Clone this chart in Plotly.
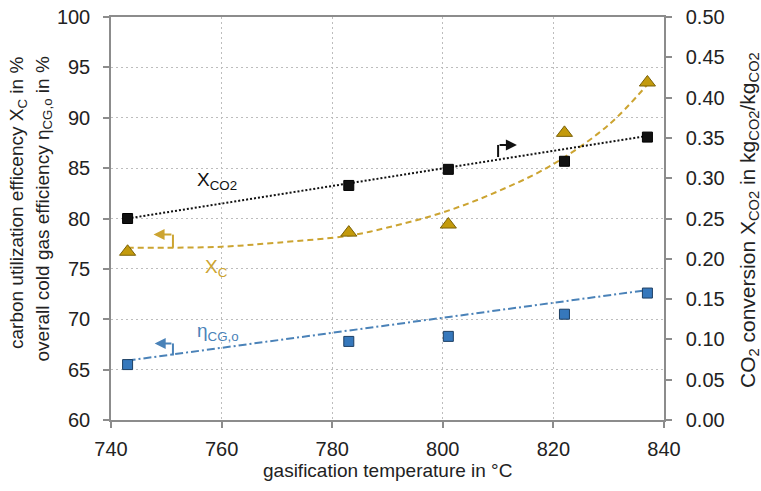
import numpy as np
import plotly.graph_objects as go

temperature = [743, 783, 801, 822, 837]
co2_conversion = [0.250, 0.291, 0.311, 0.321, 0.351]   # right axis, kg/kg
carbon_util = [76.7, 78.6, 79.4, 88.5, 93.5]           # left axis, %
cold_gas_eff = [65.5, 67.8, 68.3, 70.5, 72.6]          # left axis, %

# trend lines
trend_lin_t = [743, 837]
trend_co2 = [0.250, 0.3525]
trend_eta = [65.9, 72.9]
trend_c_t = [743, 750, 760, 770, 783, 790, 800, 810, 820, 830, 837]
trend_c = [77.1, 77.1, 77.2, 77.6, 78.3, 79.1, 80.6, 82.7, 85.4, 89.3, 93.3]

x_ticks = [740, 760, 780, 800, 820, 840]
left_ticks = [60, 65, 70, 75, 80, 85, 90, 95, 100]
right_ticks = [0.0, 0.05, 0.10, 0.15, 0.20, 0.25, 0.30, 0.35, 0.40, 0.45, 0.50]

BLACK = "#111111"
GOLD_M = "#C39A0C"
GOLD_L = "#CCA431"
BLUE_M = "#3678BC"
BLUE_L = "#4A82B8"
AXC = "#8c8c8c"
GRID = "#bdbdbd"
TXT = "#222222"
FONT = "Liberation Sans, Arial, sans-serif"

fig = go.Figure()
fig.add_trace(go.Scatter(x=trend_c_t, y=trend_c, mode="lines", line=dict(color=GOLD_L, width=2, dash="6px,4px", shape="spline"), hoverinfo="skip"))
fig.add_trace(go.Scatter(x=trend_lin_t, y=trend_eta, mode="lines", line=dict(color=BLUE_L, width=2, dash="8px,3px,2px,3px"), hoverinfo="skip"))
fig.add_trace(go.Scatter(x=trend_lin_t, y=trend_co2, mode="lines", yaxis="y2", line=dict(color=BLACK, width=2, dash="2px,2px"), hoverinfo="skip"))
fig.add_trace(go.Scatter(x=temperature, y=carbon_util, mode="markers",
                         marker=dict(symbol="triangle-up", size=14, color=GOLD_M, line=dict(color="#7a6108", width=1))))
fig.add_trace(go.Scatter(x=temperature, y=cold_gas_eff, mode="markers",
                         marker=dict(symbol="square", size=10, color=BLUE_M, line=dict(color="#1d3f63", width=1))))
fig.add_trace(go.Scatter(x=temperature, y=co2_conversion, mode="markers", yaxis="y2",
                         marker=dict(symbol="square", size=10, color=BLACK, line=dict(color="#000", width=1))))

def elbow(x, y0, y1, x_end, color):
    fig.add_shape(type="line", x0=x, x1=x, y0=y0, y1=y1, xref="x", yref="y", line=dict(color=color, width=2))
    fig.add_annotation(x=x_end, y=y1, ax=x, ay=y1, xref="x", yref="y", axref="x", ayref="y",
                       text="", showarrow=True, arrowhead=2, arrowsize=1.1, arrowwidth=2, arrowcolor=color)

elbow(810.0, 86.1, 87.3, 813.4, BLACK)
elbow(751.2, 77.1, 78.4, 747.7, GOLD_L)
elbow(751.2, 66.4, 67.6, 747.9, BLUE_L)

fig.add_annotation(x=759.1, y=83.7, text="X<sub>CO2</sub>", showarrow=False, font=dict(size=19, color=BLACK, family=FONT))
fig.add_annotation(x=759.0, y=75.1, text="X<sub>C</sub>", showarrow=False, font=dict(size=19, color=GOLD_L, family=FONT))
fig.add_annotation(x=759.3, y=68.7, text="η<sub>CG,o</sub>", showarrow=False, font=dict(size=19, color=BLUE_L, family=FONT))

def py(p):  # pixel row -> paper y (plot area from 17 to 420)
    return 1 - (p - 17) / (420 - 17)

fig.add_annotation(xref="paper", yref="paper", x=0, y=py(55), xshift=-93, textangle=-90, showarrow=False,
                   xanchor="center", yanchor="top",
                   text="carbon utilization efficency X<sub>C</sub> in %", font=dict(size=19, color=TXT, family=FONT))
fig.add_annotation(xref="paper", yref="paper", x=0, y=py(55), xshift=-68, textangle=-90, showarrow=False,
                   xanchor="center", yanchor="top",
                   text="overall cold gas efficiency η<sub>CG,o</sub> in %", font=dict(size=19, color=TXT, family=FONT))
fig.add_annotation(xref="paper", yref="paper", x=1, y=py(220), xshift=85, textangle=-90, showarrow=False,
                   xanchor="center", yanchor="middle",
                   text="CO<sub>2</sub> conversion X<sub>CO2</sub> in kg<sub>CO2</sub>/kg<sub>CO2</sub>",
                   font=dict(size=21, color=TXT, family=FONT))
fig.add_annotation(xref="paper", yref="paper", x=0.5, y=0, yshift=-50, showarrow=False,
                   xanchor="center", yanchor="middle",
                   text="gasification temperature in °C", font=dict(size=19, color=TXT, family=FONT))

common = dict(showline=True, linecolor=AXC, linewidth=1.5, ticks="outside", tickcolor=AXC, ticklen=6,
              tickwidth=1.5, zeroline=False, automargin=False, tickfont=dict(size=20, color=TXT, family=FONT))

fig.update_layout(
    width=761, height=491, margin=dict(l=111, r=97, t=17, b=71, autoexpand=False),
    paper_bgcolor="white", plot_bgcolor="white", showlegend=False,
    font=dict(family=FONT, color=TXT, size=19),
    xaxis=dict(range=[740, 840], tickvals=x_ticks, mirror=True, showgrid=True, gridcolor=GRID,
               griddash="2px,3px", gridwidth=1.2, ticklabelstandoff=4, **common),
    yaxis=dict(range=[60, 100], tickvals=left_ticks, mirror=True, showgrid=True, gridcolor=GRID,
               griddash="2px,3px", gridwidth=1.2, ticklabelstandoff=9, **common),
    yaxis2=dict(range=[0, 0.5], tickvals=right_ticks, tickformat=".2f", overlaying="y", side="right",
                showgrid=False, ticklabelstandoff=10, **common),
)

fig.write_html("out.html", config={"displayModeBar": False},
               post_script="document.body.style.margin='0';document.body.style.padding='0';document.body.style.overflow='hidden';")
